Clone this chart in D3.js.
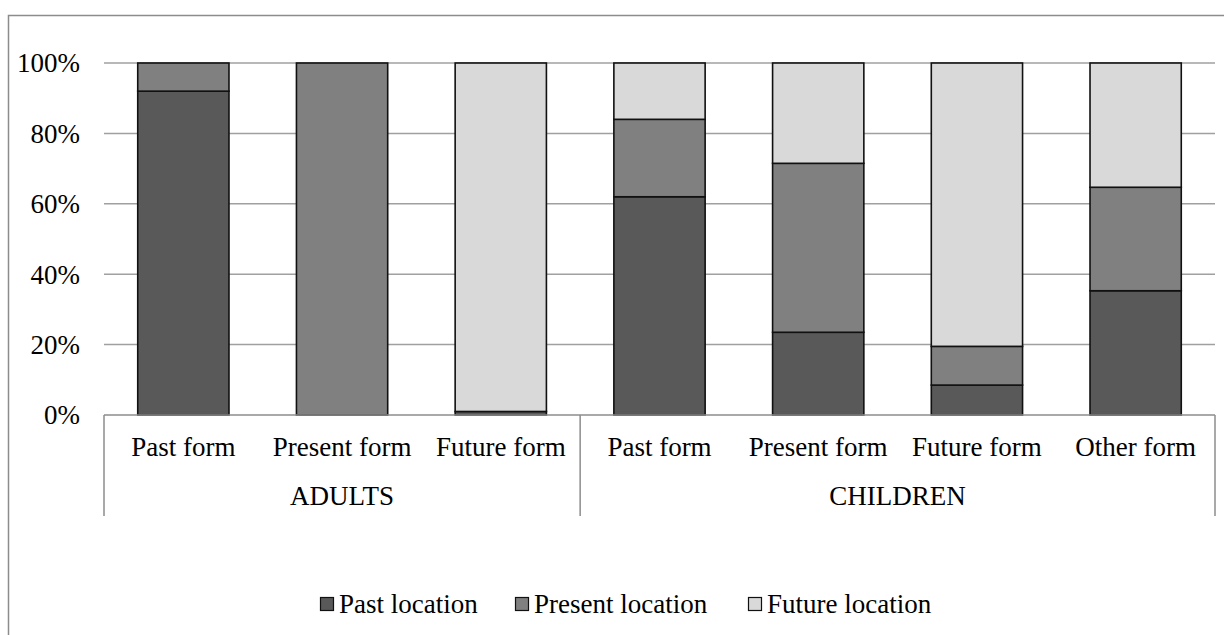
<!DOCTYPE html>
<html><head><meta charset="utf-8">
<script src="https://cdn.jsdelivr.net/npm/d3@7"></script>
<style>body{margin:0;background:#fff}svg{display:block}text{font-family:"Liberation Serif","DejaVu Serif",serif;fill:#000}</style>
</head><body><svg id="c" width="1224" height="635"></svg>
<script>
const categories = ["Past form","Present form","Future form","Past form","Present form","Future form","Other form"];
const groups = [{name:"ADULTS", start:0, end:3},{name:"CHILDREN", start:3, end:7}];
const series = ["Past location","Present location","Future location"];
const pastLoc = [92, 0, 1, 62, 23.5, 8.5, 35.3];
const presentLoc = [8, 100, 0, 22, 48, 11, 29.4];
const futureLoc = [0, 0, 99, 16, 28.5, 80.5, 35.3];
const yTicks = [0,20,40,60,80,100];
const colors = ["#595959","#808080","#d9d9d9"];
const FS = 27;

const svg = d3.select("#c");
svg.append("rect").attr("x",8.5).attr("y",15.5).attr("width",1240).attr("height",640)
  .attr("fill","none").attr("stroke","#8c8c8c").attr("stroke-width",1.5);

const L=104, R=1215, T=63, B=415;
const x = d3.scaleBand().domain(d3.range(categories.length)).range([L,R]).paddingInner(0.425).paddingOuter(0.2125);
const y = d3.scaleLinear().domain([0,100]).range([B,T]);

// gridlines
svg.append("g").selectAll("line").data(yTicks.filter(d=>d>0)).join("line")
  .attr("x1",L).attr("x2",R).attr("y1",d=>y(d)).attr("y2",d=>y(d))
  .attr("stroke","#a0a0a0").attr("stroke-width",1.5);

// y labels
svg.append("g").selectAll("text").data(yTicks).join("text")
  .attr("x",80).attr("y",d=>y(d)).attr("dy","0.35em").attr("text-anchor","end")
  .attr("font-size",FS).text(d=>d+"%");

// stacked bars
const rows = categories.map((c,i)=>({i, "Past location":pastLoc[i], "Present location":presentLoc[i], "Future location":futureLoc[i]}));
const stack = d3.stack().keys(series)(rows);
svg.append("g").selectAll("g").data(stack).join("g").attr("fill",(d,i)=>colors[i])
  .selectAll("rect").data(d=>d.filter(e=>e[1]-e[0]>0)).join("rect")
  .attr("x",d=>x(d.data.i)).attr("width",x.bandwidth())
  .attr("y",d=>y(d[1])).attr("height",d=>y(d[0])-y(d[1]))
  .attr("stroke","#111").attr("stroke-width",1.6);

// x axis line
svg.append("line").attr("x1",L).attr("x2",R).attr("y1",B).attr("y2",B).attr("stroke","#8c8c8c").attr("stroke-width",1.5);

// category labels
svg.append("g").selectAll("text").data(categories).join("text")
  .attr("x",(d,i)=>x(i)+x.bandwidth()/2).attr("y",456).attr("text-anchor","middle")
  .attr("font-size",FS).text(d=>d);

// group dividers
const bounds = [L, (x(2)+x.bandwidth()+x(3))/2, R];
svg.append("g").selectAll("line").data(bounds).join("line")
  .attr("x1",d=>d).attr("x2",d=>d).attr("y1",B).attr("y2",516)
  .attr("stroke","#8c8c8c").attr("stroke-width",1.5);
svg.append("g").selectAll("text").data(groups).join("text")
  .attr("x",g=>(x(g.start)+x(g.end-1)+x.bandwidth())/2).attr("y",505).attr("text-anchor","middle")
  .attr("font-size",FS).text(g=>g.name);

// legend
const legX = [320, 515, 748];
const lg = svg.append("g").selectAll("g").data(series).join("g")
  .attr("transform",(d,i)=>`translate(${legX[i]},604)`);
lg.append("rect").attr("x",0.5).attr("y",-6.5).attr("width",13).attr("height",13)
  .attr("fill",(d,i)=>colors[i]).attr("stroke","#111").attr("stroke-width",1.2);
lg.append("text").attr("x",19).attr("y",0).attr("dy","0.33em").attr("font-size",FS).text(d=>d);
</script></body></html>
